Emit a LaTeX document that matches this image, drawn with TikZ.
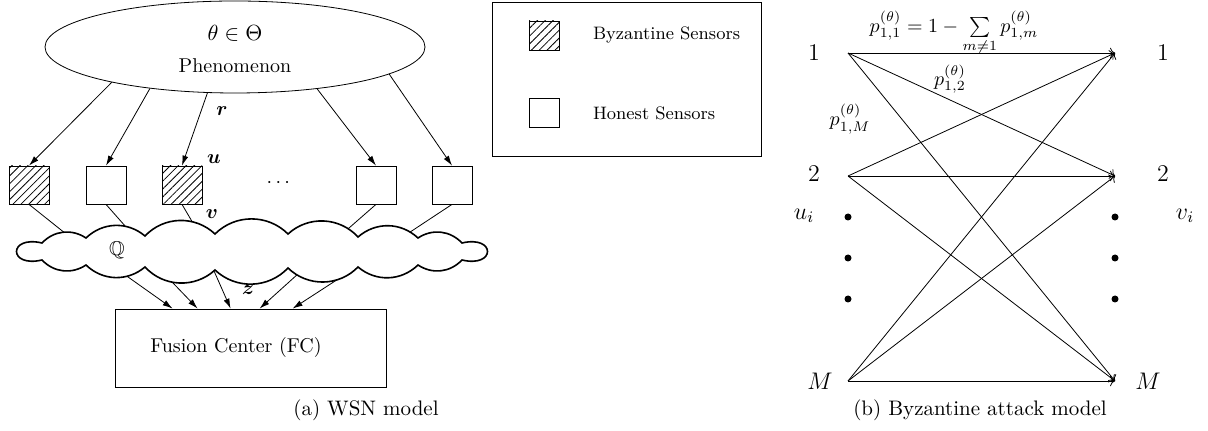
\documentclass[tikz,border=0pt]{standalone}
\usepackage{amsmath,amssymb}
\usetikzlibrary{shapes.geometric,patterns.meta,arrows.meta,calc}

\tikzset{
    sensor/.style={draw, minimum width=20pt, minimum height=19pt, inner sep=0pt},
    byzsensor/.style={sensor, pattern={Lines[angle=45,distance=2.8pt,line width=0.4pt]}},
    keysensor/.style={draw, minimum width=15pt, minimum height=14.5pt, inner sep=0pt},
    keybyz/.style={keysensor, pattern={Lines[angle=45,distance=2.8pt,line width=0.4pt]}},
    link/.style={-{Latex[length=5pt,width=3pt]}},
    caption/.style={font=\fontsize{10.5}{13}\selectfont},
    tag/.style={font=\large},
}

\begin{document}
\begin{tikzpicture}[x=0.5pt,y=-0.5pt]
    \useasboundingbox (0,0) rectangle (1208,431);

    % (a) WSN model
    \node[ellipse, draw, minimum width=190pt, minimum height=46pt, inner sep=0pt] (ph) at (235,47) {};
    \node[font=\fontsize{11}{13}\selectfont] at (235,33) {$\theta \in \Theta$};
    \node at (235,66) {Phenomenon};

    \node[byzsensor] (s1) at (29,185) {};
    \node[sensor] (s2) at (106,185) {};
    \node[byzsensor] (s3) at (182,185) {};
    \node at (280,183) {$\cdots$};
    \node[sensor] (s4) at (376,185) {};
    \node[sensor] (s5) at (452,185) {};

    \draw[link] (ph.196) -- (s1.north);
    \draw[link] (ph.206) -- (s2.north);
    \draw[link] (ph.239) -- (s3.north);
    \draw[link] (ph.333) -- (s4.north);
    \draw[link] (ph.350) -- (s5.north);
    \node at (222,111) {$\boldsymbol{r}$};
    \node at (214,159) {$\boldsymbol{u}$};

    \node[draw, minimum width=135.5pt, minimum height=39pt] (fc) at (250.5,348) {};
    \node at (236,348) {Fusion Center (FC)};

    % ends hidden under the cloud
    \coordinate (c1) at (83,247.5);
    \coordinate (c2) at (137.5,240);
    \coordinate (c3) at (198.5,232.5);
    \coordinate (c4) at (337,238.5);
    \coordinate (c5) at (389,246);
    \draw (s1.south) -- (c1);
    \draw (s2.south) -- (c2);
    \draw (s3.south) -- (c3);
    \draw (s4.south) -- (c4);
    \draw (s5.south) -- (c5);

    \coordinate (d1) at (105.5,261);
    \coordinate (d2) at (160.5,270);
    \coordinate (d3) at (207,255);
    \coordinate (d4) at (314,259.5);
    \coordinate (d5) at (359,265.5);
    \draw[link] (d1) -- ($(fc.north west)+(58,0)$);
    \draw[link] (d2) -- ($(fc.north west)+(83,0)$);
    \draw[link] (d3) -- ($(fc.north west)+(116,0)$);
    \draw[link] (d4) -- ($(fc.north west)+(145,0)$);
    \draw[link] (d5) -- ($(fc.north west)+(178,0)$);

    % quantizer cloud
    \filldraw[fill=white, thick] (42,260) .. controls (8,268) and (8,235) .. (42,243)
        to[bend left=40] (86,238) to[bend left=42] (145,236) to[bend left=45] (215,234)
        to[bend left=45] (288,234) to[bend left=45] (358,237) to[bend left=42] (418,238)
        to[bend left=40] (462,243) .. controls (496,235) and (496,268) .. (462,260)
        to[bend left=40] (418,265) to[bend left=42] (358,267) to[bend left=45] (288,268)
        to[bend left=45] (215,270) to[bend left=45] (145,267) to[bend left=42] (86,265)
        to[bend left=40] (42,260) -- cycle;
    \node at (117,250) {$\mathbb{Q}$};
    \node at (212,214) {$\boldsymbol{v}$};
    \node at (248,290) {$\boldsymbol{z}$};

    \node[caption] at (366,410) {(a) WSN model};

    % legend
    \draw (492,2) rectangle (761,156);
    \node[keybyz] (kb) at (544,35.5) {};
    \node[keysensor] (kh) at (544,112.5) {};
    \node[anchor=west, font=\small] at (586,35) {Byzantine Sensors};
    \node[anchor=west, font=\small] at (586,113) {Honest Sensors};

    % (b) Byzantine attack model
    \coordinate (u1) at (848,53);
    \coordinate (u2) at (848,176);
    \coordinate (uM) at (848,381);
    \coordinate (v1) at (1115,53);
    \coordinate (v2) at (1115,176);
    \coordinate (vM) at (1115,381);
    \node[tag] at (814,53) {$1$};
    \node[tag] at (814,174) {$2$};
    \node[tag] at (820,381) {$M$};
    \node[tag] at (1163,53) {$1$};
    \node[tag] at (1163,174) {$2$};
    \node[tag] at (1148,381) {$M$};

    \draw[->] (u1) -- (v1);
    \draw[->] (u1) -- (v2);
    \draw[->] (u1) -- (vM);
    \draw[->] (u2) -- (v1);
    \draw[->] (u2) -- (v2);
    \draw[->] (u2) -- (vM);
    \draw[->] (uM) -- (v1);
    \draw[->] (uM) -- (v2);
    \draw[->] (uM) -- (vM);

    \fill (848,217) circle (1.75pt);
    \fill (848,258) circle (1.75pt);
    \fill (848,299) circle (1.75pt);
    \fill (1115,217) circle (1.75pt);
    \fill (1115,258) circle (1.75pt);
    \fill (1115,299) circle (1.75pt);
    \node[tag] at (804,216) {$u_i$};
    \node[tag] at (1185,216) {$v_i$};

    \node at (954,33) {$p_{1,1}^{(\theta)} = 1 - \sum\limits_{m\neq 1} p_{1,m}^{(\theta)}$};
    \node at (950,79) {$p_{1,2}^{(\theta)}$};
    \node at (850,119) {$p_{1,M}^{(\theta)}$};

    \node[caption] at (980,410) {(b) Byzantine attack model};
\end{tikzpicture}
\end{document}
